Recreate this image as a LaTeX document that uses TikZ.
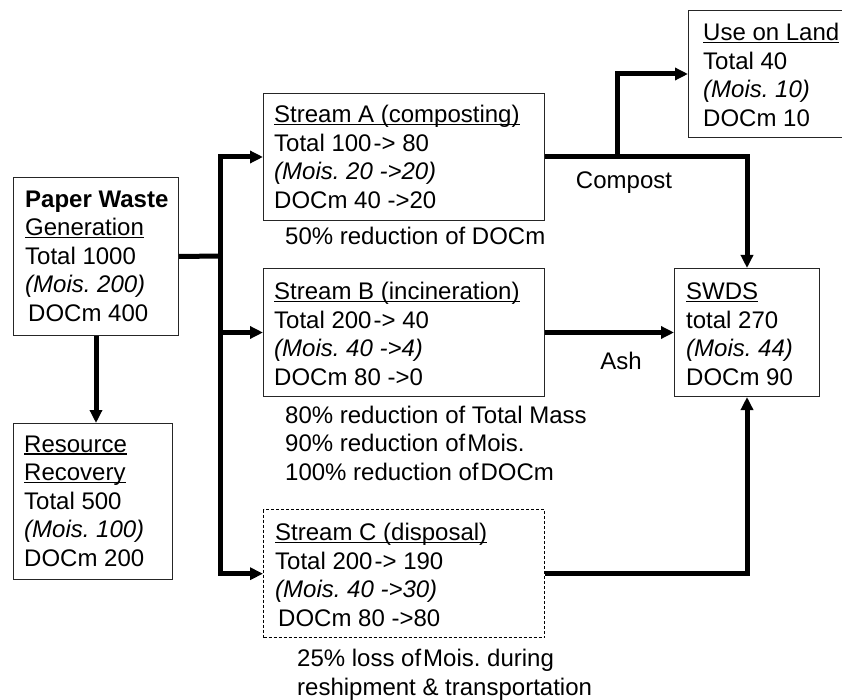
\documentclass[tikz,border=0pt]{standalone}
\usepackage{fontspec}
\setmainfont{Liberation Sans}
\usetikzlibrary{arrows.meta}
\frenchspacing
\newcommand\myul[1]{\setbox0\hbox{#1}\rlap{\rule[-2.6pt]{\wd0}{1.3pt}}\box0}
\begin{document}
\begin{tikzpicture}[x=1pt,y=-1pt,
  boxs/.style={draw=black!85, line width=1pt, anchor=north west, inner sep=0pt},
  txt/.style={anchor=west, inner sep=0pt, align=left, font=\fontsize{24}{28.5}\selectfont\frenchspacing},
  conn/.style={line width=5pt},
  arr/.style={line width=5pt, -{Triangle[length=13pt,width=12pt]}}]
\useasboundingbox (0,0) rectangle (842,700);
\fill[white] (0,0) rectangle (842,700);

% boxes
\node[boxs, minimum width=165pt, minimum height=158pt] (pw) at (13,177) {};
\node[boxs, minimum width=159pt, minimum height=156pt] (rr) at (13,423) {};
\node[boxs, minimum width=281pt, minimum height=127pt] (sa) at (263,93) {};
\node[boxs, minimum width=281pt, minimum height=128pt] (sb) at (263,268) {};
\node[boxs, minimum width=281pt, minimum height=128pt, draw=black, dash pattern=on 3pt off 2pt, line width=1.4pt] (sc) at (263,509) {};
\node[boxs, minimum width=145pt, minimum height=128pt] (sw) at (674,268) {};
\node[boxs, minimum width=158pt, minimum height=127pt] (ul) at (688,10) {};

% box texts
\node[txt] (pwt) at (25,256) {\textbf{Paper Waste}\\\myul{Generation}\\Total 1000\\\textit{(Mois. 200)}\\\hspace*{3pt}DOCm 400};
\node[txt] (rrt) at (24,501) {\myul{Resource}\\\myul{Recovery}\\Total 500\\\textit{(Mois. 100)}\\DOCm 200};
\node[txt] (sat) at (274,157) {\myul{Stream A (composting)}\\Total 100\hspace{2pt}-> 80\\\textit{(Mois. 20 ->20)}\\DOCm 40 ->20};
\node[txt] (sbt) at (274,334) {\myul{Stream B (incineration)}\\Total 200\hspace{2pt}-> 40\\\textit{(Mois. 40 ->4)}\\DOCm 80 ->0};
\node[txt] (sct) at (275,575) {\myul{Stream C (disposal)}\\Total 200\hspace{2pt}-> 190\\\textit{(Mois. 40 ->30)}\\\hspace*{3pt}DOCm 80 ->80};
\node[txt] (swt) at (686,334) {\myul{SWDS}\\total 270\\\textit{(Mois. 44)}\\DOCm 90};
\node[txt] (ult) at (703,75) {\myul{Use on Land}\\Total 40\\\textit{(Mois. 10)}\\DOCm 10};

% notes
\node[txt] (na) at (285,236) {50\% reduction of DOCm};
\node[txt] (nb) at (285,443) {80\% reduction of Total Mass\\90\% reduction of\hspace{2pt}Mois.\\100\% reduction of\hspace{2pt}DOCm};
\node[txt] (nc) at (297,675) {25\% loss of\hspace{2pt}Mois. during\\reshipment \& transportation};
\node[txt, anchor=center] (lc) at (624,183) {Compost};
\node[txt, anchor=center] (la) at (621,361) {Ash};

% connectors
\coordinate (tr) at (220,256);
\coordinate (br) at (617,156.5);
\draw[conn] (pw.east) -- (tr);
\draw[arr] (tr) |- (sa.west);
\draw[arr] (tr) |- (sb.west);
\draw[arr] (tr) |- (sc.west);
\draw[arr] (pw.south) -- (pw.south |- rr.north);
\draw[arr] (sa.east) -| (sw.north);
\draw[arr] (br) |- (ul.west);
\draw[arr] (sb.east) -- (sw.west);
\draw[arr] (sc.east) -| (sw.south);
\end{tikzpicture}
\end{document}
